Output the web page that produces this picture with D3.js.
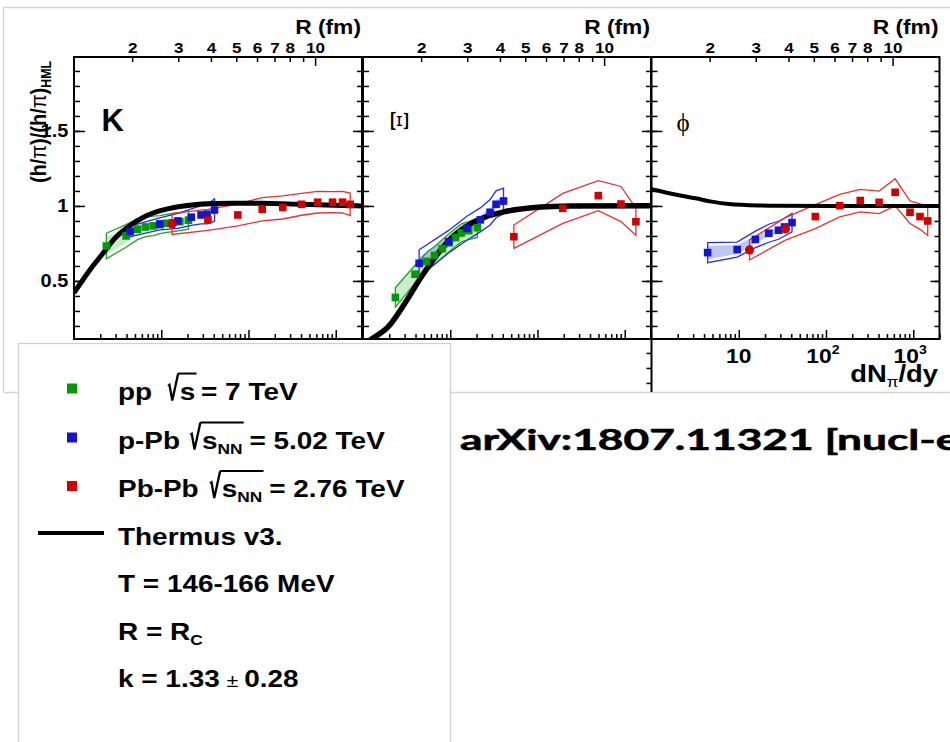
<!DOCTYPE html>
<html>
<head>
<meta charset="utf-8">
<script src="https://cdn.jsdelivr.net/npm/d3@7"></script>
<style>
  body { margin: 0; background: #fff; }
  svg { display: block; }
</style>
</head>
<body>
<div id="chart"></div>
<script>
// ---- multiplicity classes, dN_pi/dy ----
var ppN   = [2.35, 3.95, 5.35, 6.6, 8.1, 9.7, 11.5, 13.4, 16.3, 20.5];
var pPbN  = [4.4, 9.6, 15.5, 22.1, 28.6, 33.5, 40.8];
var pbN   = [13.3, 34.3, 75.5, 143.5, 247, 406, 620, 919, 1196, 1465];
var pbXiN = [53.6, 195, 498, 905, 1343];

// ---- K ----
var kPP     = [0.733, 0.80, 0.845, 0.86, 0.867, 0.875, 0.884, 0.888, 0.895, 0.905];
var kPPsys  = [0.085, 0.075, 0.07, 0.065, 0.065, 0.06, 0.06, 0.06, 0.06, 0.06];
var kPPunc  = [0.06, 0.045, 0.035, 0.03, 0.025, 0.025, 0.02, 0.02, 0.02, 0.02];
var kPPb    = [0.83, 0.88, 0.90, 0.925, 0.94, 0.945, 0.973];
var kPPbSys = [0.035, 0.04, 0.05, 0.055, 0.06, 0.065, 0.075];
var kPb     = [0.88, 0.907, 0.94, 0.978, 0.99, 1.011, 1.025, 1.025, 1.025, 1.011];
var kPbSys  = [0.07, 0.07, 0.073, 0.078, 0.077, 0.073, 0.072, 0.07, 0.072, 0.075];
var kPbCircles = [13.3];
var kThN = [1, 1.52, 2.16, 2.94, 4.17, 6.48, 10, 15.6, 40.9, 140, 400, 1490, 2000];
var kTh  = [0.42, 0.573, 0.686, 0.785, 0.86, 0.93, 0.97, 0.995, 1.017, 1.018, 1.011, 1.002, 1.0];

// ---- Xi ----
var xiPP     = [0.39, 0.545, 0.63, 0.67, 0.715, 0.755, 0.79, 0.82, 0.835, 0.855];
var xiPPsys  = [0.065, 0.06, 0.06, 0.06, 0.06, 0.06, 0.06, 0.06, 0.06, 0.065];
var xiPPb    = [0.618, 0.762, 0.851, 0.907, 0.958, 1.011, 1.033];
var xiPPbSys = [0.09, 0.075, 0.08, 0.08, 0.085, 0.09, 0.085];
var xiPPbUnc = [0.04, 0.035, 0.03, 0.03, 0.03, 0.03, 0.03];
var xiPb     = [0.795, 0.984, 1.069, 1.013, 0.895];
var xiPbSys  = [0.078, 0.1, 0.1, 0.117, 0.09];
var xiThN = [1, 1.26, 1.95, 3.02, 4.69, 7.26, 11.3, 17.5, 27, 42, 101, 243, 2000];
var xiTh  = [0.07, 0.113, 0.195, 0.351, 0.529, 0.685, 0.807, 0.884, 0.933, 0.962, 0.991, 1.0, 1.002];

// ---- phi ----
var phiPPb    = [0.689, 0.709, 0.777, 0.818, 0.838, 0.86, 0.889];
var phiPPbSys = [0.067, 0.05, 0.055, 0.06, 0.06, 0.06, 0.062];
var phiPPbUnc = [0.045, 0.03, 0.025, 0.02, 0.02, 0.02, 0.02];
var phiPb     = [0.707, 0.847, 0.929, 1.002, 1.036, 1.024, 1.091, 0.958, 0.929, 0.9];
var phiPbSys  = [0.067, 0.075, 0.08, 0.075, 0.075, 0.075, 0.09, 0.075, 0.085, 0.097];
var phiPbCircles = [13.3, 34.3];
var phiThN = [1, 2, 3.2, 4.9, 7.7, 12, 29, 100, 2000];
var phiTh  = [1.111, 1.073, 1.051, 1.029, 1.013, 1.007, 1.002, 1.0, 1.0];

// ---- axes ----
var rTicks      = [2, 3, 4, 5, 6, 7, 8, 9];
var rLabels     = [2, 3, 4, 5, 6, 7, 8, 10];
var nMinorTicks = [2, 3, 4, 5, 6, 7, 8, 9, 20, 30, 40, 50, 60, 70, 80, 90, 200, 300, 400, 500, 600, 700, 800, 900, 2000];
var nMajorTicks = [10, 100, 1000];
var yMajorTicks = [0.5, 1, 1.5];
var yMinorTicks = d3.range(2, 20).map(function(i) { return i / 10; });

var W = 950, H = 742;
var SX = 1.14;   // the picture is stretched sideways
var FONT = "'Liberation Sans', Arial, Helvetica, sans-serif";
var SERIF = "'Liberation Serif', 'DejaVu Serif', serif";
var GREEN = "#009a00", BLUE = "#1414d2", RED = "#d20000";

var panelX = [74, 363, 651.5],
    panelW = 288,
    plotTop = 57,
    plotBottom = 339;

var svg = d3.select("#chart").append("svg")
  .attr("width", W)
  .attr("height", H)
  .attr("font-family", FONT);

var y = d3.scaleLinear().domain([0.113, 1.993]).range([plotBottom, plotTop]);

// text laid out piece by piece (subscripts, radicals), stretched like the picture
function rich(parent, x, yy, parts, opt) {
  opt = opt || {};
  var size = opt.size || 24;
  var g = parent.append("g").attr("transform", "translate(" + x + "," + yy + ")");
  var inner = g.append("g");
  var cx = 0, radX = 0;
  parts.forEach(function(p) {
    if (typeof p === "string") p = { t: p };
    if (p.gap != null) { cx += p.gap; return; }
    if (p.rad === "open") {
      radX = cx;
      inner.append("path")
        .attr("d", "M" + cx + "," + (-size * 0.55) + "L" + (cx + size * 0.05) + "," + (-size * 0.6) +
                   "L" + (cx + size * 0.15) + ",1L" + (cx + size * 0.36) + "," + (-size * 1.06))
        .attr("fill", "none").attr("stroke", "#000").attr("stroke-width", 2);
      cx += size * 0.42;
      return;
    }
    if (p.rad === "close") {
      inner.append("path")
        .attr("d", "M" + (radX + size * 0.36) + "," + (-size * 1.06) + "H" + (cx + 1))
        .attr("fill", "none").attr("stroke", "#000").attr("stroke-width", 2);
      return;
    }
    var fs = (p.sub || p.sup) ? size * 0.62 : (p.size || size);
    var dy = p.sub ? size * 0.22 : p.sup ? -size * 0.45 : 0;
    var t = inner.append("text")
      .attr("x", cx).attr("y", dy)
      .attr("font-size", fs)
      .attr("font-family", p.font || FONT)
      .attr("font-weight", p.weight || "bold")
      .attr("fill", "#000")
      .text(p.t);
    cx += t.node().getComputedTextLength();
  });
  var shift = opt.anchor === "end" ? -cx : opt.anchor === "middle" ? -cx / 2 : 0;
  inner.attr("transform", "scale(" + (opt.sx || SX) + ",1) rotate(" + (opt.rotate || 0) + ") scale(" +
    (opt.gs || 1) + ",1) translate(" + shift + ",0)");
  return g;
}

function styleAxis(g, size) {
  g.select(".domain").remove();
  g.selectAll(".tick line").attr("stroke", "#000").attr("stroke-width", 1.5);
  g.selectAll(".tick text")
    .attr("font-family", FONT)
    .attr("font-weight", "bold")
    .attr("font-size", size)
    .attr("fill", "#000")
    .attr("transform", "scale(" + SX + ",1)");
}

function band(g, x, n, v, s, fill, stroke) {
  var pts = n.map(function(d, j) { return { n: d, lo: v[j] - s[j], hi: v[j] + s[j] }; });
  var area = d3.area()
    .x(function(d) { return x(d.n); })
    .y0(function(d) { return y(d.lo); })
    .y1(function(d) { return y(d.hi); });
  g.append("path").datum(pts)
    .attr("d", area)
    .attr("fill", fill || "none")
    .attr("stroke", stroke || "none")
    .attr("stroke-width", 1.3);
}

function markers(g, x, n, v, color, circles) {
  circles = circles || [];
  var pts = n.map(function(d, j) { return { n: d, v: v[j] }; });
  g.selectAll(null).data(pts.filter(function(d) { return circles.indexOf(d.n) < 0; }))
    .enter().append("rect")
    .attr("x", function(d) { return x(d.n) - 3.8; })
    .attr("y", function(d) { return y(d.v) - 3.8; })
    .attr("width", 7.6).attr("height", 7.6)
    .attr("fill", color);
  g.selectAll(null).data(pts.filter(function(d) { return circles.indexOf(d.n) >= 0; }))
    .enter().append("circle")
    .attr("cx", function(d) { return x(d.n); })
    .attr("cy", function(d) { return y(d.v); })
    .attr("r", 4.6)
    .attr("fill", color);
}

function thermus(g, x, n, v, w) {
  var pts = n.map(function(d, j) { return [d, v[j]]; });
  g.append("path").datum(pts)
    .attr("d", d3.line().curve(d3.curveMonotoneX)
      .x(function(d) { return x(d[0]); })
      .y(function(d) { return y(d[1]); }))
    .attr("fill", "none").attr("stroke", "#000").attr("stroke-width", w);
}

// ---- picture frame ----
svg.append("path")
  .attr("d", "M3.5,392.5V7.5H" + W + "M3.5,392.5H18M451,392.5H" + W)
  .attr("fill", "none").attr("stroke", "#d2d2d2").attr("stroke-width", 1.3);

// ---- panels ----
[0, 1, 2].forEach(function(i) {
  var x0 = panelX[i];
  var x = d3.scaleLog().domain([1, 2000]).range([x0, x0 + panelW]);
  var rScale = d3.scaleLog()
    .domain([Math.cbrt(1 / 0.58), Math.cbrt(2000 / 0.58)])
    .range([x0, x0 + panelW]);

  var g = svg.append("g");
  svg.append("clipPath").attr("id", "clip" + i)
    .append("rect").attr("x", x0).attr("y", plotTop).attr("width", panelW).attr("height", plotBottom - plotTop);
  var body = g.append("g").attr("clip-path", "url(#clip" + i + ")");

  if (i === 0) {
    band(body, x, ppN, kPP, kPPunc, "rgba(0,160,0,0.22)", null);
    band(body, x, ppN, kPP, kPPsys, null, "#1fa51f");
    band(body, x, pPbN, kPPb, kPPbSys, null, "#2a2aee");
    band(body, x, pbN, kPb, kPbSys, null, "#e03434");
    thermus(body, x, kThN, kTh, 5);
    markers(body, x, ppN, kPP, GREEN);
    markers(body, x, pPbN, kPPb, BLUE);
    markers(body, x, pbN, kPb, RED, kPbCircles);
  } else if (i === 1) {
    band(body, x, ppN, xiPP, xiPPsys, "rgba(0,160,0,0.2)", "#1fa51f");
    band(body, x, pPbN, xiPPb, xiPPbUnc, "rgba(40,70,220,0.25)", null);
    band(body, x, pPbN, xiPPb, xiPPbSys, null, "#2a2aee");
    band(body, x, pbXiN, xiPb, xiPbSys, null, "#e03434");
    thermus(body, x, xiThN, xiTh, 5.5);
    markers(body, x, ppN, xiPP, GREEN);
    markers(body, x, pPbN, xiPPb, BLUE);
    markers(body, x, pbXiN, xiPb, RED);
  } else {
    band(body, x, pPbN, phiPPb, phiPPbUnc, "rgba(40,70,220,0.3)", null);
    band(body, x, pPbN, phiPPb, phiPPbSys, null, "#2a2aee");
    band(body, x, pbN, phiPb, phiPbSys, null, "#e03434");
    thermus(body, x, phiThN, phiTh, 4);
    markers(body, x, pPbN, phiPPb, BLUE);
    markers(body, x, pbN, phiPb, RED, phiPbCircles);
  }

  // left axis
  g.append("g").attr("transform", "translate(" + x0 + ",0)")
    .call(d3.axisLeft(y).tickValues(yMinorTicks).tickSizeInner(-6).tickSizeOuter(0).tickFormat(""))
    .call(styleAxis, 16);
  g.append("g").attr("transform", "translate(" + x0 + ",0)")
    .call(d3.axisLeft(y).tickValues(yMajorTicks).tickSizeInner(-11).tickSizeOuter(0).tickPadding(5)
      .tickFormat(function(d) { return i === 0 ? d3.format("")(d) : ""; }))
    .call(styleAxis, 17.5);
  // right axis
  g.append("g").attr("transform", "translate(" + (x0 + panelW) + ",0)")
    .call(d3.axisRight(y).tickValues(yMinorTicks).tickSizeInner(-5).tickSizeOuter(0).tickFormat(""))
    .call(styleAxis, 16);
  g.append("g").attr("transform", "translate(" + (x0 + panelW) + ",0)")
    .call(d3.axisRight(y).tickValues(yMajorTicks).tickSizeInner(-9).tickSizeOuter(0).tickFormat(""))
    .call(styleAxis, 16);
  // bottom axis (dN/dy)
  g.append("g").attr("transform", "translate(0," + plotBottom + ")")
    .call(d3.axisBottom(x).tickValues(nMinorTicks).tickSizeInner(-5).tickSizeOuter(0).tickFormat(""))
    .call(styleAxis, 16);
  g.append("g").attr("transform", "translate(0," + plotBottom + ")")
    .call(d3.axisBottom(x).tickValues(nMajorTicks).tickSizeInner(-9).tickSizeOuter(0).tickFormat(""))
    .call(styleAxis, 16);
  // top axis (R)
  g.append("g").attr("transform", "translate(0," + plotTop + ")")
    .call(d3.axisTop(rScale).tickValues(rTicks)
      .tickSizeInner(-5).tickSizeOuter(0).tickPadding(4.5)
      .tickFormat(function(r) { return rLabels.indexOf(r) >= 0 ? r : ""; }))
    .call(styleAxis, 15);
  g.append("g").attr("transform", "translate(0," + plotTop + ")")
    .call(d3.axisTop(rScale).tickValues([10]).tickSizeInner(-9).tickSizeOuter(0).tickPadding(4.5))
    .call(styleAxis, 15);

  // frame
  g.append("rect")
    .attr("x", x0).attr("y", plotTop).attr("width", panelW).attr("height", plotBottom - plotTop)
    .attr("fill", "none").attr("stroke", "#000").attr("stroke-width", 2);

  rich(g, x0 + panelW - 1, 34, ["R (fm)"], { size: 20, anchor: "end" });

  if (i === 2) {
    nMajorTicks.forEach(function(v, k) {
      var parts = k === 0 ? ["10"] : ["10", { t: String(k + 1), sup: true }];
      rich(g, x(v) - (k === 0 ? 0 : 3), 363, parts, { size: 20, anchor: "middle" });
    });
    rich(g, 938, 382, ["dN", { t: "\u03c0", sub: true, weight: "normal" }, "/dy"], { size: 24, anchor: "end" });
  }
});

// panel labels
rich(svg, 101.5, 130.5, ["K"], { size: 31, sx: 1 });
rich(svg, 391, 121, [{ t: "\u039e", font: SERIF, weight: "normal" }],
  { size: 22, rotate: 90, gs: 1.55, anchor: "middle" });
rich(svg, 676.5, 131, [{ t: "\u03d5", font: SERIF, weight: "normal" }], { size: 25, sx: 1 });

// y title
rich(svg, 46, 122, ["(h/", { t: "\u03c0", weight: "normal" }, ")/(h/", { t: "\u03c0", weight: "normal" }, ")",
  { t: "HML", sub: true }], { size: 20, rotate: -90, anchor: "middle" });

// lower row of panels, mostly hidden under the legend
var yLow = y.copy().range([plotBottom + (plotBottom - plotTop), plotBottom]);
svg.append("line")
  .attr("x1", panelX[2]).attr("x2", panelX[2]).attr("y1", plotBottom).attr("y2", 392)
  .attr("stroke", "#000").attr("stroke-width", 2);
svg.append("g").attr("transform", "translate(" + panelX[2] + ",0)")
  .call(d3.axisRight(yLow).tickValues([1.7, 1.8, 1.9]).tickSizeInner(-5).tickSizeOuter(0).tickFormat(""))
  .call(styleAxis, 16);

// ---- legend ----
var leg = svg.append("g");
leg.append("rect")
  .attr("x", 18.5).attr("y", 343.5).attr("width", 432).attr("height", 420)
  .attr("fill", "#fff").attr("stroke", "#cfcfcf").attr("stroke-width", 1.3);

var legendRows = [
  { color: GREEN, yy: 399.5, parts: ["pp", { gap: 14 }, { rad: "open" }, "s", { rad: "close" }, { gap: 5 }, "= 7 TeV"] },
  { color: BLUE, yy: 448.5, parts: ["p-Pb", { gap: 9 }, { rad: "open" }, "s", { t: "NN", sub: true }, { rad: "close" }, { gap: 6 }, "= 5.02 TeV"] },
  { color: RED, yy: 497, parts: ["Pb-Pb", { gap: 10 }, { rad: "open" }, "s", { t: "NN", sub: true }, { rad: "close" }, { gap: 6 }, "= 2.76 TeV"] }
];
legendRows.forEach(function(r) {
  leg.append("rect").attr("x", 67).attr("y", r.yy - 16).attr("width", 10).attr("height", 10).attr("fill", r.color);
  rich(leg, 118, r.yy, r.parts, { size: 24.5 });
});
leg.append("line").attr("x1", 38).attr("x2", 104).attr("y1", 533).attr("y2", 533)
  .attr("stroke", "#000").attr("stroke-width", 4);
rich(leg, 118, 544.5, ["Thermus v3."], { size: 24.5 });
rich(leg, 118, 592, ["T = 146-166 MeV"], { size: 24.5 });
rich(leg, 118, 639.5, ["R = R", { t: "C", sub: true }], { size: 24.5 });
rich(leg, 118, 687, ["k = 1.33", { gap: 6 }, { t: "\u00b1", size: 19, weight: "normal" }, { gap: 5 }, "0.28"], { size: 24.5 });

// ---- reference note ----
svg.append("text")
  .attr("transform", "translate(460,450) scale(1.5,1)")
  .attr("font-family", "Lato, 'Open Sans', sans-serif")
  .attr("font-weight", "bold")
  .attr("font-size", 29.5)
  .attr("fill", "#000")
  .attr("stroke", "#000")
  .attr("stroke-width", 0.6)
  .text("arXiv:1807.11321 [nucl-ex]");
</script>
</body>
</html>
